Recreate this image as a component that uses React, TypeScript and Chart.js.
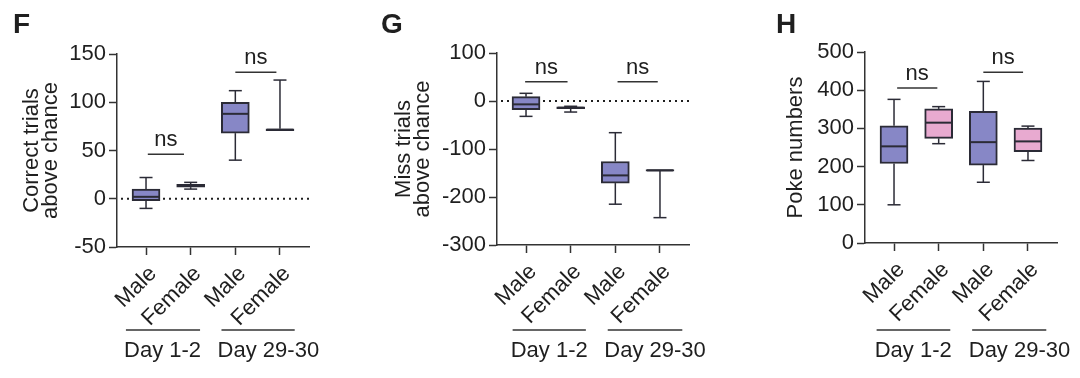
import React, { useEffect, useRef } from "react";
import { Chart, registerables } from "chart.js";

Chart.register(...registerables);

const FONT = "'Liberation Sans', Arial, Helvetica, sans-serif";
const TEXT = "#1f1f1f";
const AXIS = "#333333";
const BORDER = "#2b2b36";
const PURPLE = "#8787c6";
const PINK = "#e8aad0";

const categories = ["Male", "Female", "Male", "Female"];
const groupLabels = ["Day 1-2", "Day 29-30"];

// box statistics per category: [min, q1, median, q3, max]
const correctStats = [
  [-10, -2, 2, 10, 22],
  [10, 12, 14, 15, 17],
  [40, 68, 88, 100, 112],
  [70.5, 70.5, 71.5, 72.5, 123],
];
const missStats = [
  [-32, -18, -7, 9, 16],
  [-23, -16, -14, -12, -11],
  [-215, -171, -155, -126, -66],
  [-243, -146, -144.5, -143, -143],
];
const pokeStats = [
  [100, 208, 253, 307, 376],
  [260, 274, 315, 351, 357],
  [159, 204, 264, 345, 423],
  [216, 239, 266, 301, 306],
];

// y axis: [min, max, step]
const correctRange = [-50, 150, 50];
const missRange = [-300, 100, 100];
const pokeRange = [0, 500, 100];

// significance brackets: [xFrom, xTo, y]
const correctSig = [
  [0.04, 0.85, 46],
  [2.0, 2.92, 131],
];
const missSig = [
  [-0.02, 0.93, 40],
  [2.05, 2.95, 40],
];
const pokeSig = [
  [0.07, 0.97, 406],
  [2.0, 2.89, 447],
];

// group underline spans [from, to] and label centres (category units)
const correctGroups = [[-0.45, 1.21, 0.37], [1.69, 3.33, 2.74]];
const missGroups = [[-0.3, 1.34, 0.52], [1.83, 3.5, 2.89]];
const pokeGroups = [[-0.39, 1.26, 0.43], [1.75, 3.41, 2.81]];

type PanelCfg = {
  letter: string;
  letterX: number;
  left: number;
  axisWidth: number;
  top: number;
  bottom: number;
  right: number;
  title: string[];
  titlePad: number;
  stats: number[][];
  range: number[];
  sig: number[][];
  groups: number[][];
  colors: string[];
  zeroLine: boolean;
};

const panels: PanelCfg[] = [
  {
    letter: "F", letterX: 13, left: 0, axisWidth: 117, top: 54, bottom: 247, right: 51,
    title: ["Correct trials", "above chance"], titlePad: 22,
    stats: correctStats, range: correctRange, sig: correctSig, groups: correctGroups,
    colors: [PURPLE, PURPLE, PURPLE, PURPLE], zeroLine: true,
  },
  {
    letter: "G", letterX: 21, left: 360, axisWidth: 137, top: 53, bottom: 245, right: 31,
    title: ["Miss trials", "above chance"], titlePad: 34,
    stats: missStats, range: missRange, sig: missSig, groups: missGroups,
    colors: [PURPLE, PURPLE, PURPLE, PURPLE], zeroLine: true,
  },
  {
    letter: "H", letterX: 56, left: 720, axisWidth: 145, top: 52, bottom: 243, right: 23,
    title: ["Poke numbers"], titlePad: 66,
    stats: pokeStats, range: pokeRange, sig: pokeSig, groups: pokeGroups,
    colors: [PURPLE, PINK, PURPLE, PINK], zeroLine: false,
  },
];

function extras(p: PanelCfg) {
  return {
    id: "extras" + p.letter,
    beforeDatasetsDraw(chart: any) {
      if (!p.zeroLine) return;
      const { ctx, chartArea, scales } = chart;
      const yy = scales.y.getPixelForValue(0);
      ctx.save();
      ctx.setLineDash([2, 4]);
      ctx.lineWidth = 2;
      ctx.strokeStyle = TEXT;
      ctx.beginPath();
      ctx.moveTo(chartArea.left + 4, yy);
      ctx.lineTo(chartArea.right, yy);
      ctx.stroke();
      ctx.restore();
    },
    afterDatasetsDraw(chart: any) {
      const { ctx, scales } = chart;
      const x = scales.x;
      const y = scales.y;
      const seg = (x1: number, y1: number, x2: number, y2: number) => {
        ctx.beginPath();
        ctx.moveTo(x1, y1);
        ctx.lineTo(x2, y2);
        ctx.stroke();
      };
      ctx.save();
      ctx.strokeStyle = BORDER;
      p.stats.forEach((s, i) => {
        const cx = x.getPixelForValue(i);
        const cap = 6.5;
        const half = 13;
        ctx.lineWidth = 1.5;
        if (s[4] > s[3]) {
          seg(cx, y.getPixelForValue(s[3]), cx, y.getPixelForValue(s[4]));
          seg(cx - cap, y.getPixelForValue(s[4]), cx + cap, y.getPixelForValue(s[4]));
        }
        if (s[0] < s[1]) {
          seg(cx, y.getPixelForValue(s[1]), cx, y.getPixelForValue(s[0]));
          seg(cx - cap, y.getPixelForValue(s[0]), cx + cap, y.getPixelForValue(s[0]));
        }
        ctx.lineWidth = 2;
        seg(cx - half, y.getPixelForValue(s[2]), cx + half, y.getPixelForValue(s[2]));
      });
      ctx.restore();
    },
    afterDraw(chart: any) {
      const { ctx, scales } = chart;
      const x = scales.x;
      const y = scales.y;
      ctx.save();
      ctx.strokeStyle = AXIS;
      ctx.fillStyle = TEXT;
      ctx.lineWidth = 1.5;
      ctx.font = `22px ${FONT}`;
      ctx.textAlign = "center";
      ctx.textBaseline = "alphabetic";
      p.sig.forEach(([a, b, v]) => {
        const yy = y.getPixelForValue(v);
        const xa = x.getPixelForValue(a);
        const xb = x.getPixelForValue(b);
        ctx.beginPath();
        ctx.moveTo(xa, yy);
        ctx.lineTo(xb, yy);
        ctx.stroke();
        ctx.fillText("ns", (xa + xb) / 2, yy - 8);
      });
      p.groups.forEach(([a, b, c], gi) => {
        const xa = x.getPixelForValue(a);
        const xb = x.getPixelForValue(b);
        ctx.beginPath();
        ctx.moveTo(xa, 330);
        ctx.lineTo(xb, 330);
        ctx.stroke();
        ctx.fillText(groupLabels[gi], x.getPixelForValue(c), 357);
      });
      ctx.textAlign = "left";
      ctx.font = `bold 28px ${FONT}`;
      ctx.fillText(p.letter, p.letterX, 33);
      ctx.restore();
    },
  };
}

function Panel({ p }: { p: PanelCfg }) {
  const ref = useRef<HTMLCanvasElement>(null);
  useEffect(() => {
    const canvas = ref.current;
    if (!canvas) return;
    const gridCfg = {
      drawOnChartArea: false,
      drawTicks: true,
      tickLength: 8,
      tickColor: AXIS,
      tickWidth: 1.5,
      offset: false,
    };
    const chart = new Chart(canvas, {
      type: "bar",
      data: {
        datasets: [
          {
            data: p.stats.map((s, i) => ({ x: i, y: [s[1], s[3]] })) as any,
            backgroundColor: p.colors,
            borderColor: BORDER,
            borderWidth: 2,
            borderSkipped: false,
            barThickness: 28,
          },
        ],
      },
      options: {
        responsive: false,
        animation: false,
        events: [],
        layout: { padding: { left: 0, top: p.top, right: p.right, bottom: 0 } },
        plugins: {
          legend: { display: false },
          tooltip: { enabled: false },
          title: { display: false },
        },
        scales: {
          x: {
            type: "linear",
            min: -0.65,
            max: 3.65,
            offset: false,
            afterBuildTicks: (s: any) => {
              s.ticks = categories.map((_, i) => ({ value: i }));
            },
            afterFit: (s: any) => {
              s.height = 378 - p.bottom;
            },
            ticks: {
              callback: (v: any) => categories[Math.round(Number(v))],
              minRotation: 45,
              maxRotation: 45,
              autoSkip: false,
              padding: 6,
              labelOffset: 7,
              color: TEXT,
              font: { size: 22, family: FONT },
            },
            grid: gridCfg,
            border: { color: AXIS, width: 1.5 },
          },
          y: {
            min: p.range[0],
            max: p.range[1],
            afterFit: (s: any) => {
              s.width = p.axisWidth;
            },
            ticks: {
              stepSize: p.range[2],
              padding: 3,
              color: TEXT,
              font: { size: 22, family: FONT },
            },
            grid: gridCfg,
            border: { color: AXIS, width: 1.5 },
            title: {
              display: true,
              text: p.title,
              color: TEXT,
              font: { size: 22, family: FONT, lineHeight: 19.5 / 22 },
              padding: { top: p.titlePad, bottom: 0 },
            },
          },
        },
      } as any,
      plugins: [extras(p)],
    });
    return () => chart.destroy();
  }, [p]);
  return (
    <canvas
      ref={ref}
      width={360}
      height={378}
      style={{ position: "absolute", left: p.left, top: 0, width: 360, height: 378 }}
    />
  );
}

export default function App() {
  return (
    <div
      style={{
        position: "fixed",
        left: 0,
        top: 0,
        width: 1080,
        height: 378,
        background: "#ffffff",
        overflow: "hidden",
      }}
    >
      {panels.map((p) => (
        <Panel key={p.letter} p={p} />
      ))}
    </div>
  );
}
